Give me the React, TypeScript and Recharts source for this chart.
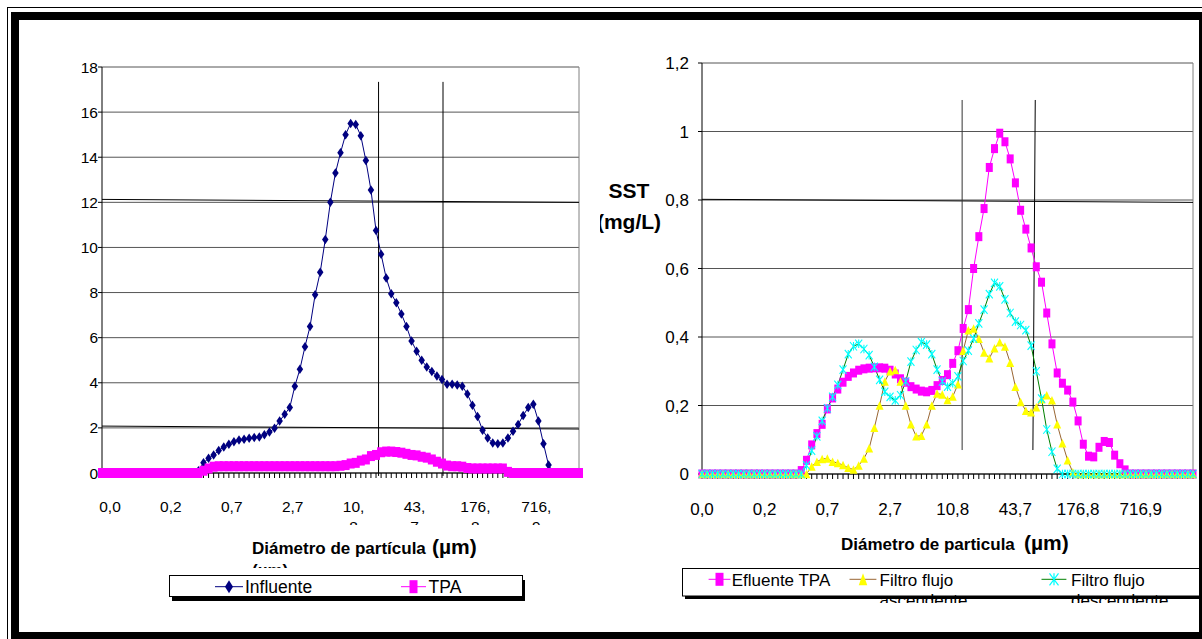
import React from 'react'
import { LineChart, Line, XAxis, YAxis, CartesianGrid, ReferenceLine } from 'recharts'

// size classes (µm): one label every 12 classes
const diameterLabels = ['0,0', '0,2', '0,7', '2,7', '10,8', '43,7', '176,8', '716,9']
const labelStep = 12

// left panel
const influente = [
  0, 0, 0, 0, 0, 0, 0, 0, 0, 0,
  0, 0, 0, 0, 0, 0, 0, 0, 0, 0.1,
  0.45, 0.65, 0.8, 1.0, 1.15, 1.28, 1.38, 1.46, 1.5, 1.54,
  1.57, 1.6, 1.7, 1.82, 1.98, 2.3, 2.6, 2.9, 3.85, 4.6,
  5.6, 6.5, 7.9, 8.9, 10.35, 12.0, 13.3, 14.2, 15.0, 15.5,
  15.45, 14.95, 13.85, 12.55, 10.75, 9.7, 8.65, 7.95, 7.55, 7.05,
  6.5, 5.85, 5.4, 5.0, 4.7, 4.5, 4.3, 4.15, 3.93, 3.93,
  3.9, 3.85, 3.5, 3.0, 2.5, 1.9, 1.55, 1.33, 1.3, 1.33,
  1.55, 1.85, 2.15, 2.55, 2.9, 3.05, 2.3, 1.3, 0.35, 0,
  0, 0, 0, 0, 0,
]
const tpa = [
  0, 0, 0, 0, 0, 0, 0, 0, 0, 0,
  0, 0, 0, 0, 0, 0, 0, 0, 0, 0,
  0.1, 0.2, 0.28, 0.3, 0.3, 0.3, 0.3, 0.3, 0.3, 0.3,
  0.3, 0.3, 0.3, 0.3, 0.3, 0.3, 0.3, 0.3, 0.3, 0.3,
  0.3, 0.3, 0.3, 0.3, 0.3, 0.3, 0.3, 0.32, 0.35, 0.42,
  0.45, 0.55, 0.6, 0.75, 0.8, 0.92, 0.95, 0.95, 0.93, 0.9,
  0.85, 0.8, 0.78, 0.72, 0.68, 0.6, 0.5, 0.42, 0.33, 0.3,
  0.3, 0.28, 0.22, 0.2, 0.2, 0.2, 0.2, 0.2, 0.2, 0.2,
  0.05, 0, 0, 0, 0, 0, 0, 0, 0, 0,
  0, 0, 0, 0, 0,
]

// right panel
const efluenteTPA = [
  0, 0, 0, 0, 0, 0, 0, 0, 0, 0,
  0, 0, 0, 0, 0, 0, 0, 0, 0, 0.01,
  0.04, 0.085, 0.118, 0.145, 0.19, 0.222, 0.248, 0.268, 0.285, 0.295,
  0.303, 0.307, 0.309, 0.31, 0.31, 0.309, 0.303, 0.292, 0.278, 0.268,
  0.255, 0.248, 0.242, 0.24, 0.244, 0.258, 0.273, 0.29, 0.323, 0.36,
  0.425, 0.48, 0.6, 0.693, 0.775, 0.895, 0.95, 0.995, 0.97, 0.92,
  0.85, 0.77, 0.715, 0.66, 0.605, 0.56, 0.47, 0.38, 0.295, 0.265,
  0.245, 0.21, 0.155, 0.087, 0.052, 0.05, 0.078, 0.095, 0.092, 0.055,
  0.03, 0.012, 0, 0, 0, 0, 0, 0, 0, 0,
  0, 0, 0, 0, 0,
]
const filtroAscendente = [
  0, 0, 0, 0, 0, 0, 0, 0, 0, 0,
  0, 0, 0, 0, 0, 0, 0, 0, 0, 0,
  0, 0.022, 0.036, 0.044, 0.045, 0.036, 0.032, 0.026, 0.018, 0.013,
  0.025, 0.045, 0.075, 0.135, 0.2, 0.27, 0.3, 0.304, 0.27, 0.2,
  0.145, 0.11, 0.112, 0.145, 0.2, 0.235, 0.232, 0.216, 0.226, 0.262,
  0.36, 0.42, 0.425, 0.395, 0.355, 0.338, 0.367, 0.385, 0.372, 0.325,
  0.255, 0.21, 0.185, 0.18, 0.195, 0.218, 0.23, 0.215, 0.145, 0.09,
  0.04, 0.005, 0, 0, 0, 0, 0, 0, 0, 0,
  0, 0, 0, 0, 0, 0, 0, 0, 0, 0,
  0, 0, 0, 0, 0,
]
const filtroDescendente = [
  0, 0, 0, 0, 0, 0, 0, 0, 0, 0,
  0, 0, 0, 0, 0, 0, 0, 0, 0, 0,
  0.025, 0.068, 0.11, 0.155, 0.192, 0.225, 0.26, 0.305, 0.35, 0.373,
  0.38, 0.365, 0.347, 0.313, 0.275, 0.24, 0.225, 0.215, 0.23, 0.27,
  0.328, 0.362, 0.385, 0.378, 0.35, 0.305, 0.27, 0.255, 0.265, 0.285,
  0.33, 0.36, 0.395, 0.44, 0.48, 0.525, 0.558, 0.548, 0.51, 0.47,
  0.445, 0.435, 0.42, 0.375, 0.3, 0.22, 0.13, 0.065, 0.015, 0,
  0, 0, 0, 0, 0, 0, 0, 0, 0, 0,
  0, 0, 0, 0, 0, 0, 0, 0, 0, 0,
  0, 0, 0, 0, 0,
]

const leftYTicks = [0, 2, 4, 6, 8, 10, 12, 14, 16, 18]
const rightYTicks = [0, 0.2, 0.4, 0.6, 0.8, 1, 1.2]

const leftData = influente.map((v, i) => ({ i, influente: v, tpa: tpa[i] }))
const rightData = efluenteTPA.map((v, i) => ({
  i,
  efluente: v,
  ascendente: filtroAscendente[i],
  descendente: filtroDescendente[i],
}))
const classTicks = leftData.map(d => d.i)
const lastClass = classTicks[classTicks.length - 1]

const SANS = "'Liberation Sans', Arial, Helvetica, sans-serif"

const comma = (v: number) => String(v).replace('.', ',')

// markers
const diamondPath = (x: number, y: number, w: number, h: number) =>
  `M${x},${y - h / 2}L${x + w / 2},${y}L${x},${y + h / 2}L${x - w / 2},${y}Z`
const trianglePath = (x: number, y: number, w: number, h: number) =>
  `M${x},${y - h / 2}L${x + w / 2},${y + h / 2}L${x - w / 2},${y + h / 2}Z`
const starPath = (x: number, y: number, w: number, h: number) =>
  `M${x - w / 2},${y - h / 2}L${x + w / 2},${y + h / 2}M${x + w / 2},${y - h / 2}L${x - w / 2},${y + h / 2}M${x},${y - h / 2}L${x},${y + h / 2}`

const diamondDot = (p: any) =>
  p.cx == null ? <g key={`dm${p.index}`} /> :
  <path key={`dm${p.index}`} d={diamondPath(p.cx, p.cy, 6.5, 9.5)} fill="#000080" />

const squareDot = (w: number, h: number, color: string, id: string) => (p: any) =>
  p.cx == null ? <g key={`${id}${p.index}`} /> :
  <rect key={`${id}${p.index}`} x={p.cx - w / 2} y={p.cy - h / 2} width={w} height={h} fill={color} />

const triangleDot = (p: any) =>
  p.cx == null ? <g key={`tr${p.index}`} /> :
  <path key={`tr${p.index}`} d={trianglePath(p.cx, p.cy, 8, 8.5)} fill="#FFFF00" />

const starDot = (p: any) =>
  p.cx == null ? <g key={`st${p.index}`} /> :
  <path key={`st${p.index}`} d={starPath(p.cx, p.cy, 7, 8.5)} stroke="#00FFFF" strokeWidth={1.1} fill="none" />

function LeftClassTick(props: any) {
  const { x, y, payload } = props
  const i = payload.value
  if (i % labelStep !== 0) return <g />
  const label = diameterLabels[i / labelStep]
  const cut = label.indexOf(',') + 1
  const lines = label.length > 3 ? [label.slice(0, cut), label.slice(cut)] : [label]
  const cx = x + 8
  return (
    <text x={cx} y={y} textAnchor="middle" fontFamily={SANS} fontSize={15.5} fill="#000">
      {lines.map((s, k) => (
        <tspan key={k} x={cx} dy={k === 0 ? 31.5 : 20}>{s}</tspan>
      ))}
    </text>
  )
}

function RightClassTick(props: any) {
  const { x, y, payload } = props
  const i = payload.value
  if (i % labelStep !== 0) return <g />
  return (
    <text x={x} y={y} dy={34} textAnchor="middle" fontFamily={SANS} fontSize={17} fill="#000">
      {diameterLabels[i / labelStep]}
    </text>
  )
}

function LeftPanel() {
  return (
    <div style={{ position: 'absolute', left: 0, top: 0, width: 600, height: 639, overflow: 'hidden' }}>
      <LineChart width={600} height={639} data={leftData} margin={{ top: 67, right: 21, left: 52, bottom: 126 }}>
        <CartesianGrid vertical={false} stroke="#555" />
        <XAxis
          dataKey="i"
          type="number"
          domain={[0, lastClass]}
          ticks={classTicks}
          interval={0}
          height={40}
          tickSize={5}
          stroke="#000"
          tickLine={{ stroke: '#000' }}
          tick={<LeftClassTick />}
        />
        <YAxis
          domain={[0, 18]}
          ticks={leftYTicks}
          interval={0}
          width={50}
          tickSize={4}
          tickMargin={0}
          stroke="#000"
          tick={{ fill: '#000', fontSize: 15.5, fontFamily: SANS }}
        />
        <ReferenceLine x={lastClass} stroke="#808080" />
        <ReferenceLine segment={[{ x: 0, y: 12.13 }, { x: lastClass, y: 12.0 }]} stroke="#000" />
        <ReferenceLine segment={[{ x: 0, y: 2.08 }, { x: lastClass, y: 1.95 }]} stroke="#000" />
        <ReferenceLine segment={[{ x: 54.5, y: 17.34 }, { x: 54.5, y: -0.13 }]} stroke="#000" ifOverflow="visible" />
        <ReferenceLine segment={[{ x: 67.2, y: 17.34 }, { x: 67.2, y: -0.13 }]} stroke="#000" ifOverflow="visible" />
        <Line dataKey="influente" stroke="#000080" strokeWidth={1} dot={diamondDot} activeDot={false} isAnimationActive={false} />
        <Line dataKey="tpa" stroke="#FF00FF" strokeWidth={1} dot={squareDot(8, 10, '#FF00FF', 'tp')} activeDot={false} isAnimationActive={false} />
      </LineChart>
      <svg width={600} height={639} style={{ position: 'absolute', left: 0, top: 0 }}>
        <rect x={300} y={525} width={300} height={14} fill="#fff" />
        <text x={252} y={553.5} fontFamily={SANS} fontWeight="bold" fontSize={17}>Diámetro de partícula</text>
        <text x={432} y={554} fontFamily={SANS} fontWeight="bold" fontSize={21}>(µm)</text>
        <text x={252} y={576} fontFamily={SANS} fontWeight="bold" fontSize={17}>(µm)</text>
        <rect x={240} y={568} width={100} height={7} fill="#fff" />
      </svg>
    </div>
  )
}

function RightPanel() {
  return (
    <div style={{ position: 'absolute', left: 600, top: 0, width: 602, height: 639, overflow: 'hidden' }}>
      <LineChart width={602} height={639} data={rightData} margin={{ top: 63, right: 9, left: 52, bottom: 125 }}>
        <CartesianGrid vertical={false} stroke="#555" />
        <XAxis
          dataKey="i"
          type="number"
          domain={[0, lastClass]}
          ticks={classTicks}
          interval={0}
          height={40}
          tickSize={5}
          stroke="#000"
          tickLine={{ stroke: '#000' }}
          tick={<RightClassTick />}
        />
        <YAxis
          domain={[0, 1.2]}
          ticks={rightYTicks}
          interval={0}
          width={50}
          tickSize={4}
          tickMargin={9}
          stroke="#000"
          tickFormatter={comma}
          tick={{ fill: '#000', fontSize: 17, fontFamily: SANS }}
        />
        <ReferenceLine x={lastClass} stroke="#808080" />
        <ReferenceLine segment={[{ x: 0, y: 0.802 }, { x: lastClass, y: 0.793 }]} stroke="#000" />
        <ReferenceLine segment={[{ x: 49.8, y: 1.092 }, { x: 49.8, y: 0.07 }]} stroke="#333" ifOverflow="visible" />
        <ReferenceLine segment={[{ x: 63.8, y: 1.092 }, { x: 63.35, y: 0.07 }]} stroke="#000" ifOverflow="visible" />
        <Line dataKey="efluente" stroke="#FF00FF" strokeWidth={1} dot={squareDot(7, 9, '#FF00FF', 'ef')} activeDot={false} isAnimationActive={false} />
        <Line dataKey="ascendente" stroke="#996633" strokeWidth={1} dot={triangleDot} activeDot={false} isAnimationActive={false} />
        <Line dataKey="descendente" stroke="#008000" strokeWidth={1} dot={starDot} activeDot={false} isAnimationActive={false} />
      </LineChart>
      <svg width={602} height={639} style={{ position: 'absolute', left: 0, top: 0 }}>
        <text x={29} y={198} textAnchor="middle" fontFamily={SANS} fontWeight="bold" fontSize={21}>SST</text>
        <text x={29} y={229} textAnchor="middle" fontFamily={SANS} fontWeight="bold" fontSize={21}>(mg/L)</text>
        <text x={241} y={550} fontFamily={SANS} fontWeight="bold" fontSize={17}>Diámetro de particula</text>
        <text x={424} y={550} fontFamily={SANS} fontWeight="bold" fontSize={21}>(µm)</text>
      </svg>
    </div>
  )
}

function LeftLegend() {
  return (
    <svg width={362} height={30} style={{ position: 'absolute', left: 169, top: 575 }}>
      <rect x={3} y={5} width={353} height={21} fill="#000" />
      <rect x={0.5} y={0.5} width={353} height={21} fill="#fff" stroke="#000" />
      <line x1={46} x2={74} y1={11.7} y2={11.7} stroke="#000080" />
      <path d={diamondPath(60, 11.7, 8, 13)} fill="#000080" />
      <text x={76} y={18} fontFamily={SANS} fontSize={17.5}>Influente</text>
      <line x1={232} x2={257} y1={11.7} y2={11.7} stroke="#FF00FF" />
      <rect x={240.5} y={5.2} width={8} height={13} fill="#FF00FF" />
      <text x={259.6} y={18} fontFamily={SANS} fontSize={17.5}>TPA</text>
    </svg>
  )
}

function RightLegend() {
  return (
    <svg width={520} height={37} style={{ position: 'absolute', left: 682, top: 566 }}>
      <rect x={3} y={5} width={540} height={28} fill="#000" />
      <rect x={0.5} y={2.5} width={540} height={27.5} fill="#fff" stroke="#000" />
      <line x1={26.6} x2={48.5} y1={13.3} y2={13.3} stroke="#FF00FF" />
      <rect x={33.5} y={6.8} width={8} height={13} fill="#FF00FF" />
      <text x={49.7} y={20} fontFamily={SANS} fontSize={17}>Efluente TPA</text>
      <line x1={167.5} x2={194.4} y1={13.3} y2={13.3} stroke="#996633" />
      <path d={trianglePath(181, 13.3, 8.5, 12)} fill="#FFFF00" />
      <text x={197.5} y={20} fontFamily={SANS} fontSize={17}>
        <tspan x={197.5}>Filtro flujo</tspan>
        <tspan x={197.5} dy={20}>ascendente</tspan>
      </text>
      <line x1={359.5} x2={384.4} y1={13.3} y2={13.3} stroke="#008000" />
      <path d={starPath(372, 13.3, 9, 12)} stroke="#00FFFF" strokeWidth={1.2} fill="none" />
      <text x={389} y={20} fontFamily={SANS} fontSize={17}>
        <tspan x={389}>Filtro flujo</tspan>
        <tspan x={389} dy={20}>descendente</tspan>
      </text>
    </svg>
  )
}

export default function App() {
  return (
    <div
      style={{
        position: 'absolute',
        left: 0,
        top: 0,
        width: 1202,
        height: 639,
        overflow: 'hidden',
        background: '#fff',
        fontFamily: SANS,
      }}
    >
      <LeftPanel />
      <RightPanel />
      <LeftLegend />
      <RightLegend />
      {/* double frame */}
      <div style={{ position: 'absolute', left: 7, top: 7, width: 1300, height: 700, borderLeft: '1px solid #000', borderTop: '1px solid #000' }} />
      <div style={{ position: 'absolute', left: 11, top: 12, width: 1196, height: 628, border: '8px solid #000', boxSizing: 'border-box' }} />
    </div>
  )
}
